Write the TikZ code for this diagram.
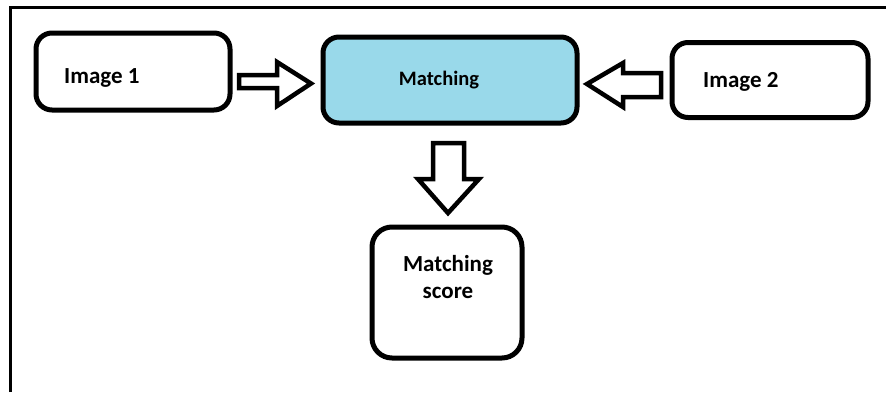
\documentclass[tikz,border=0pt]{standalone}
\usepackage{fontspec}
\setmainfont{Carlito}
\definecolor{paintblue}{HTML}{99D9EA}
\begin{document}
\begin{tikzpicture}[x=1pt,y=-1pt,
  box/.style={draw=black,line width=5pt,rounded corners=16pt,inner sep=0pt},
  blk/.style={draw=black,line width=4.5pt,line join=miter,fill=white},
  lbl/.style={inner sep=0pt,font=\fontsize{23}{27}\selectfont\bfseries},
  frame/.style={line width=3pt}]
\useasboundingbox (0,0) rectangle (886,392);
% frame (top and left edges only)
\draw[frame] (10,392) -- (10,7) -- (886,7);
% boxes
\node[box,minimum width=194pt,minimum height=77pt] (img1) at (133,71.5) {};
\node[box,fill=paintblue,minimum width=254pt,minimum height=86pt] (match) at (450,80) {};
\node[box,minimum width=196pt,minimum height=75pt] (img2) at (770,80) {};
\node[box,minimum width=150pt,minimum height=131pt,rounded corners=20pt] (score) at (447,292.5) {};
% labels
\node[lbl,anchor=west] (t1) at (64,78) {Image 1};
\node[lbl,font=\fontsize{20.5}{24}\selectfont\bfseries] (t2) at (439,80) {Matching};
\node[lbl,anchor=west] (t3) at (703,82) {Image 2};
\node[lbl,align=center] (t4) at (448,277) {Matching\\score};
% block arrows
\draw[blk] (239,75) -- (277,75) -- (277,62) -- (311,83.5) -- (277,106) -- (277,88) -- (239,88) -- cycle;
\draw[blk] (661,73) -- (623,73) -- (623,63) -- (587,84) -- (623,107) -- (623,97) -- (661,97) -- cycle;
\draw[blk] (433,143) -- (464,143) -- (464,179) -- (479,179) -- (448,213) -- (418,179) -- (433,179) -- cycle;
\end{tikzpicture}
\end{document}
